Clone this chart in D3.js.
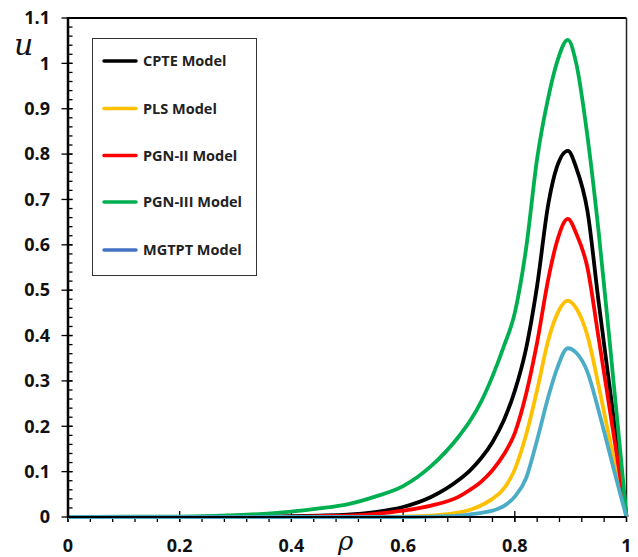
<!DOCTYPE html>
<html>
<head>
<meta charset="utf-8">
<script src="https://d3js.org/d3.v7.min.js"></script>
<style>
  body { margin: 0; background: #fff; }
  .tick-label { font-family: "Open Sans", sans-serif; font-weight: 700; font-size: 18px; fill: #111; }
  .legend-label { font-family: "Open Sans", sans-serif; font-weight: 700; font-size: 14.5px; fill: #222; }
  .axis-title { font-family: "DejaVu Serif", serif; font-style: italic; fill: #111; }
</style>
</head>
<body>
<svg width="638" height="557"></svg>
<script>
// rho grid shared by every series
var rho = [0, 0.1, 0.2, 0.25, 0.3, 0.35, 0.4, 0.45, 0.5, 0.55, 0.6, 0.65, 0.7, 0.72, 0.74,
           0.76, 0.78, 0.8, 0.82, 0.84, 0.86, 0.875, 0.895, 0.91, 0.93, 0.95, 0.97, 0.99, 1];

var cpte   = [0, 0, 0, 0.0005, 0.001, 0.001, 0.002, 0.003, 0.005, 0.011, 0.022, 0.044, 0.082, 0.103, 0.13,
              0.165, 0.212, 0.278, 0.37, 0.51, 0.69, 0.77, 0.807, 0.77, 0.675, 0.475, 0.285, 0.095, 0];
var pls    = [0, 0, 0, 0, 0, 0, 0, 0, 0, 0.0005, 0.001, 0.003, 0.01, 0.016, 0.026,
              0.04, 0.062, 0.105, 0.18, 0.28, 0.39, 0.445, 0.477, 0.46, 0.40, 0.29, 0.17, 0.055, 0];
var pgn2   = [0, 0, 0, 0, 0.0005, 0.001, 0.001, 0.002, 0.003, 0.007, 0.014, 0.025, 0.045, 0.06, 0.078,
              0.103, 0.137, 0.185, 0.27, 0.385, 0.525, 0.605, 0.657, 0.625, 0.55, 0.395, 0.237, 0.079, 0];
var pgn3   = [0, 0.0005, 0.001, 0.002, 0.004, 0.007, 0.012, 0.019, 0.028, 0.045, 0.068, 0.112, 0.178, 0.212, 0.255,
              0.31, 0.375, 0.45, 0.59, 0.79, 0.925, 1.0, 1.052, 1.0, 0.84, 0.63, 0.385, 0.13, 0];
var mgtpt  = [0, 0, 0, 0, 0, 0, 0, 0, 0, 0, 0, 0.001, 0.003, 0.006, 0.009,
              0.014, 0.024, 0.045, 0.085, 0.17, 0.265, 0.325, 0.372, 0.362, 0.32, 0.235, 0.14, 0.045, 0];

var seriesNames = ["CPTE Model", "PLS Model", "PGN-II Model", "PGN-III Model", "MGTPT Model"];
var seriesData = [cpte, pls, pgn2, pgn3, mgtpt];
var lineColors = ["#000000", "#FFC000", "#FF0000", "#00B050", "#4BACC6"];
var legendColors = ["#000000", "#FFC000", "#FF0000", "#00B050", "#4472C4"];

var xTicks = [0, 0.2, 0.4, 0.6, 0.8, 1];
var yTicks = [0, 0.1, 0.2, 0.3, 0.4, 0.5, 0.6, 0.7, 0.8, 0.9, 1, 1.1];

var svg = d3.select("svg");

var x = d3.scaleLinear().domain([0, 1]).range([68, 626.5]);
var y = d3.scaleLinear().domain([0, 1.1]).range([517, 18]);

// frame: top and right thin
svg.append("line").attr("x1", x(0)).attr("x2", x(1)).attr("y1", y(1.1)).attr("y2", y(1.1))
    .attr("stroke", "#000").attr("stroke-width", 2);
svg.append("line").attr("x1", x(1)).attr("x2", x(1)).attr("y1", y(1.1)).attr("y2", y(0))
    .attr("stroke", "#222").attr("stroke-width", 1.5);

// y minor ticks (inside)
var yMinor = d3.range(0, 1.1001, 0.02);
svg.selectAll(".ymin").data(yMinor).enter().append("line")
    .attr("x1", x(0)).attr("x2", x(0) + 4.5)
    .attr("y1", function(d) { return y(d); }).attr("y2", function(d) { return y(d); })
    .attr("stroke", "#000").attr("stroke-width", 1.3);
// y major ticks (crossing)
svg.selectAll(".ymaj").data(yTicks).enter().append("line")
    .attr("x1", x(0) - 6.5).attr("x2", x(0) + 4.5)
    .attr("y1", function(d) { return y(d); }).attr("y2", function(d) { return y(d); })
    .attr("stroke", "#000").attr("stroke-width", 1.3);
svg.selectAll(".ylab").data(yTicks).enter().append("text")
    .attr("class", "tick-label")
    .attr("x", 50).attr("y", function(d) { return y(d); })
    .attr("dy", "0.35em").attr("text-anchor", "end")
    .text(function(d) { return d3.format("")(+d.toFixed(1)); });

// x minor ticks (outside)
var xMinor = d3.range(0, 1.0001, 0.04);
svg.selectAll(".xmin").data(xMinor).enter().append("line")
    .attr("x1", function(d) { return x(d); }).attr("x2", function(d) { return x(d); })
    .attr("y1", y(0)).attr("y2", y(0) + 5)
    .attr("stroke", "#000").attr("stroke-width", 1.3);
svg.selectAll(".xmaj").data(xTicks).enter().append("line")
    .attr("x1", function(d) { return x(d); }).attr("x2", function(d) { return x(d); })
    .attr("y1", y(0) - 6).attr("y2", y(0) + 5)
    .attr("stroke", "#000").attr("stroke-width", 1.3);
svg.selectAll(".xlab").data(xTicks).enter().append("text")
    .attr("class", "tick-label")
    .attr("x", function(d) { return x(d); }).attr("y", 552)
    .attr("text-anchor", "middle")
    .text(function(d) { return d3.format("")(+d.toFixed(1)); });

// curves
var line = d3.line()
    .x(function(d, i) { return x(rho[i]); })
    .y(function(d) { return y(d); })
    .curve(d3.curveMonotoneX);

svg.selectAll(".curve").data(seriesData).enter().append("path")
    .attr("d", line)
    .attr("fill", "none")
    .attr("stroke", function(d, i) { return lineColors[i]; })
    .attr("stroke-width", 3.8)
    .attr("stroke-linejoin", "round");

// left and bottom axis lines on top
svg.append("line").attr("x1", x(0)).attr("x2", x(0)).attr("y1", y(1.1) - 1).attr("y2", y(0) + 1)
    .attr("stroke", "#000").attr("stroke-width", 2.5);
svg.append("line").attr("x1", x(0)).attr("x2", x(1)).attr("y1", y(0)).attr("y2", y(0))
    .attr("stroke", "#000").attr("stroke-width", 2);

// axis titles
svg.append("text").attr("class", "axis-title").attr("x", 14).attr("y", 55)
    .style("font-size", "30px").text("u");
svg.append("text").attr("class", "axis-title").attr("x", 338).attr("y", 550)
    .style("font-size", "26px").text("ρ");

// legend
var legend = svg.append("g");
legend.append("rect").attr("x", 92.5).attr("y", 38.5).attr("width", 164).attr("height", 237)
    .attr("fill", "#fff").attr("stroke", "#333").attr("stroke-width", 1);
var legendY = [61, 108.5, 155.5, 202, 250];
var items = legend.selectAll(".item").data(seriesNames).enter().append("g")
    .attr("transform", function(d, i) { return "translate(0," + legendY[i] + ")"; });
items.append("line").attr("x1", 104).attr("x2", 136).attr("y1", 0).attr("y2", 0)
    .attr("stroke", function(d, i) { return legendColors[i]; })
    .attr("stroke-width", 3.5).attr("stroke-linecap", "round");
items.append("text").attr("class", "legend-label")
    .attr("x", 143).attr("dy", "0.35em").text(function(d) { return d; });
</script>
</body>
</html>
